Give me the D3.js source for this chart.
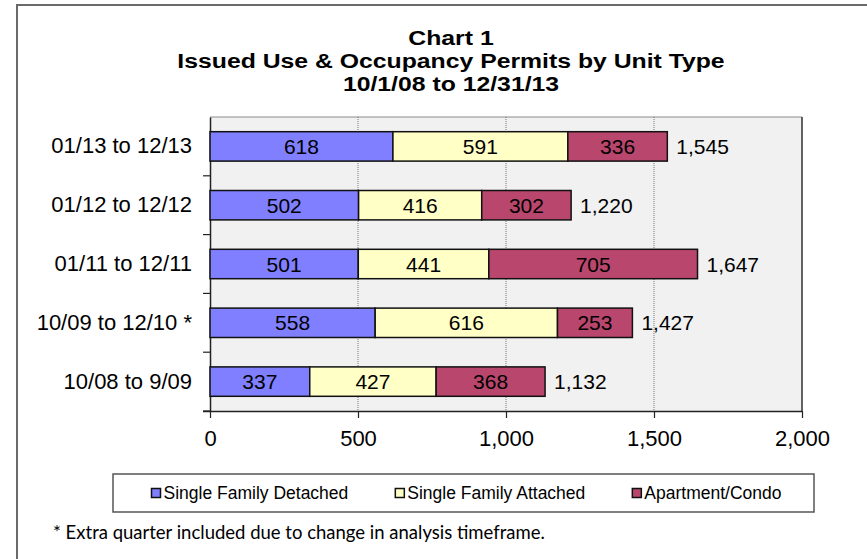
<!DOCTYPE html>
<html>
<head>
<meta charset="utf-8">
<script src="https://cdn.jsdelivr.net/npm/d3@7"></script>
<style>
  body { margin: 0; background: #fff; }
  svg { display: block; font-family: "Liberation Sans", Arial, sans-serif; }
</style>
</head>
<body>
<svg id="chart" width="867" height="559"></svg>
<script>
var categories = ['01/13 to 12/13', '01/12 to 12/12', '01/11 to 12/11', '10/09 to 12/10 *', '10/08 to 9/09'];
var seriesNames = ['Single Family Detached', 'Single Family Attached', 'Apartment/Condo'];
var detached = [618, 502, 501, 558, 337];
var attached = [591, 416, 441, 616, 427];
var condo = [336, 302, 705, 253, 368];
var xTicks = [0, 500, 1000, 1500, 2000];
var titleLines = ['Chart 1', 'Issued Use & Occupancy Permits by Unit Type', '10/1/08 to 12/31/13'];
var footnote = '* Extra quarter included due to change in analysis timeframe.';

var colors = ['#7f7fff', '#ffffc6', '#b9466d'];

var svg = d3.select('#chart');

// outer frame (only top and left show in the crop)
svg.append('path')
  .attr('d', 'M17,559 V5 H867')
  .attr('fill', 'none')
  .attr('stroke', '#6a6a6a')
  .attr('stroke-width', 2);

// title, a bit stretched like the source
svg.append('g')
  .attr('transform', 'translate(451,0) scale(1.18,1)')
  .selectAll('text')
  .data(titleLines)
  .enter().append('text')
  .attr('x', 0)
  .attr('y', (d, i) => 45 + i * 23)
  .attr('font-size', 21)
  .attr('font-weight', 'bold')
  .attr('text-anchor', 'middle')
  .text((d) => d);

var plot = { left: 210, right: 802, top: 117, bottom: 411 };

var x = d3.scaleLinear().domain([0, 2000]).range([plot.left, plot.right]);
var y = d3.scaleBand().domain(categories).range([plot.top, plot.bottom])
  .paddingInner(0.5).paddingOuter(0.25);

// plot background
svg.append('rect')
  .attr('x', plot.left).attr('y', plot.top)
  .attr('width', plot.right - plot.left).attr('height', plot.bottom - plot.top)
  .attr('fill', '#f1f1f1');

svg.append('path')
  .attr('d', `M${plot.left},${plot.top} H${plot.right} V${plot.bottom}`)
  .attr('fill', 'none')
  .attr('stroke', '#8a8a8a')
  .attr('stroke-width', 1);
svg.append('line')
  .attr('x1', plot.right).attr('x2', plot.right)
  .attr('y1', plot.top).attr('y2', plot.bottom)
  .attr('stroke', '#222').attr('stroke-width', 1.2);

// grid
svg.append('g')
  .selectAll('line')
  .data(xTicks.slice(1, -1))
  .enter().append('line')
  .attr('x1', (d) => x(d)).attr('x2', (d) => x(d))
  .attr('y1', plot.top).attr('y2', plot.bottom)
  .attr('stroke', '#777')
  .attr('stroke-width', 1)
  .attr('stroke-dasharray', '1,1');

// x axis
var xAxis = svg.append('g')
  .attr('transform', `translate(0,${plot.bottom})`)
  .call(d3.axisBottom(x).tickValues(xTicks).tickSize(7).tickSizeOuter(0).tickPadding(12)
    .tickFormat(d3.format(',')));
xAxis.select('.domain').attr('stroke', '#222').attr('stroke-width', 1.5)
  .attr('d', `M${plot.left - 7},0.5 H${plot.right}`);
xAxis.selectAll('.tick line').attr('stroke', '#222').attr('stroke-width', 1.2);
xAxis.selectAll('.tick text').attr('font-size', 22).attr('fill', '#000')
  .attr('font-family', '"Liberation Sans", Arial, sans-serif');

// y axis
var yAxis = svg.append('g')
  .attr('transform', `translate(${plot.left},0)`)
  .call(d3.axisLeft(y).tickSize(0).tickPadding(18));
yAxis.select('.domain').attr('stroke', '#222').attr('stroke-width', 1.5);
yAxis.selectAll('.tick text').attr('font-size', 22).attr('fill', '#000')
  .attr('font-family', '"Liberation Sans", Arial, sans-serif');

// category boundary ticks
var bounds = categories.map((c) => y(c) + y.bandwidth() + y.step() * y.paddingInner() / 2);
svg.append('g')
  .selectAll('line')
  .data(bounds)
  .enter().append('line')
  .attr('x1', plot.left - 7).attr('x2', plot.left)
  .attr('y1', (d) => d).attr('y2', (d) => d)
  .attr('stroke', '#222').attr('stroke-width', 1.2);

// stacked bars
var rows = categories.map((c, i) => ({ cat: c, a: detached[i], b: attached[i], c: condo[i] }));
var stack = d3.stack().keys(['a', 'b', 'c'])(rows);

var layers = svg.append('g')
  .selectAll('g')
  .data(stack)
  .enter().append('g')
  .attr('fill', (d, i) => colors[i]);

layers.selectAll('rect')
  .data((d) => d)
  .enter().append('rect')
  .attr('x', (d) => x(d[0]))
  .attr('y', (d) => y(d.data.cat))
  .attr('width', (d) => x(d[1]) - x(d[0]))
  .attr('height', y.bandwidth())
  .attr('stroke', '#111')
  .attr('stroke-width', 1.5);

layers.selectAll('text')
  .data((d) => d)
  .enter().append('text')
  .attr('x', (d) => (x(d[0]) + x(d[1])) / 2)
  .attr('y', (d) => y(d.data.cat) + y.bandwidth() / 2)
  .attr('dy', '0.36em')
  .attr('text-anchor', 'middle')
  .attr('font-size', 21)
  .attr('fill', '#000')
  .text((d) => d[1] - d[0]);

// totals
svg.append('g')
  .selectAll('text')
  .data(rows)
  .enter().append('text')
  .attr('x', (d) => x(d.a + d.b + d.c) + 9)
  .attr('y', (d) => y(d.cat) + y.bandwidth() / 2)
  .attr('dy', '0.36em')
  .attr('font-size', 21)
  .text((d) => d3.format(',')(d.a + d.b + d.c));

// legend
var legBox = { left: 113, right: 814, top: 474, bottom: 512 };
svg.append('rect')
  .attr('x', legBox.left).attr('y', legBox.top)
  .attr('width', legBox.right - legBox.left).attr('height', legBox.bottom - legBox.top)
  .attr('fill', '#fff')
  .attr('stroke', '#555')
  .attr('stroke-width', 1.5);

var legItems = svg.append('g')
  .selectAll('g')
  .data(seriesNames)
  .enter().append('g');

legItems.append('rect')
  .attr('width', 9).attr('height', 9)
  .attr('y', -4.5)
  .attr('fill', (d, i) => colors[i])
  .attr('stroke', '#111')
  .attr('stroke-width', 1.5);

legItems.append('text')
  .attr('x', 12)
  .attr('dy', '0.36em')
  .attr('font-size', 17.5)
  .text((d) => d);

var widths = [];
legItems.each(function () { widths.push(this.getBBox().width); });
var gap = 47;
var total = d3.sum(widths) + gap * (widths.length - 1);
var lx = (legBox.left + legBox.right) / 2 - total / 2 + 3;
legItems.attr('transform', function (d, i) {
  let t = `translate(${lx},${(legBox.top + legBox.bottom) / 2})`;
  lx += widths[i] + gap;
  return t;
});

// footnote
svg.append('text')
  .attr('x', 53)
  .attr('y', 539)
  .attr('font-family', 'Lato, "Open Sans", sans-serif')
  .attr('font-size', 18.5)
  .text(footnote);
</script>
</body>
</html>
